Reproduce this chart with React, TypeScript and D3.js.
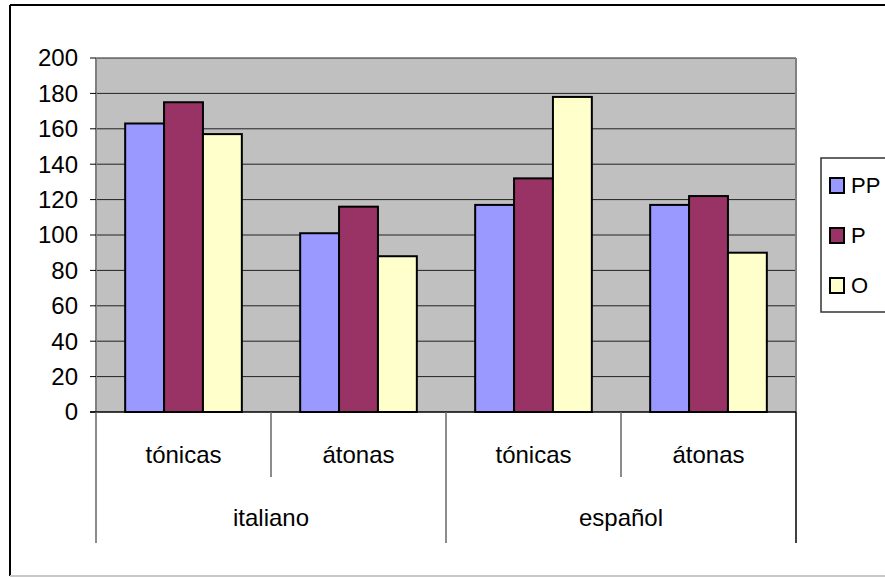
import React from "react";
import * as d3 from "d3";

// Sub-categories within each language group
const subCategories = ["tónicas", "átonas", "tónicas", "átonas"];
const groups = ["italiano", "español"];
const seriesNames = ["PP", "P", "O"];
const seriesColors = ["#9999FF", "#993366", "#FFFFCC"];

const ppValues = [163, 101, 117, 117];
const pValues = [175, 116, 132, 122];
const oValues = [157, 88, 178, 90];

const yTicks = [0, 20, 40, 60, 80, 100, 120, 140, 160, 180, 200];

const W = 885;
const H = 577;
const plot = { left: 96, right: 796, top: 58, bottom: 412 };
const FONT = "'Liberation Sans', Arial, sans-serif";
const FS = 24;

export default function App() {
  const values = [ppValues, pValues, oValues];

  const y = d3.scaleLinear().domain([0, 200]).range([plot.bottom, plot.top]);
  const x0 = d3
    .scaleBand<number>()
    .domain(d3.range(subCategories.length))
    .range([plot.left, plot.right]);
  const bw = x0.bandwidth();
  // gap width of 150% of a bar
  const barW = bw / (3 + 1.5);
  const x1 = d3
    .scaleBand<number>()
    .domain(d3.range(seriesNames.length))
    .range([barW * 0.75, bw - barW * 0.75]);

  const groupX = d3
    .scaleBand<number>()
    .domain(d3.range(groups.length))
    .range([plot.left, plot.right]);

  return (
    <svg
      width={W}
      height={H}
      style={{ position: "absolute", left: 0, top: 0, display: "block" }}
    >
      <rect x={0} y={0} width={W} height={H} fill="#fff" />
      {/* outer frame */}
      <line x1={10} y1={5} x2={900} y2={5} stroke="#000" strokeWidth={2} />
      <line x1={10} y1={5} x2={10} y2={576} stroke="#000" strokeWidth={2} />
      <line x1={10} y1={576} x2={900} y2={576} stroke="#c8c8c8" strokeWidth={2} />

      {/* plot background */}
      <rect
        x={plot.left}
        y={plot.top}
        width={plot.right - plot.left}
        height={plot.bottom - plot.top}
        fill="#C0C0C0"
      />
      {/* gridlines */}
      {yTicks.slice(1).map((t) => (
        <line
          key={t}
          x1={plot.left}
          x2={plot.right}
          y1={y(t)}
          y2={y(t)}
          stroke="#222"
          strokeWidth={1}
        />
      ))}
      {/* plot right border */}
      <line
        x1={plot.right}
        x2={plot.right}
        y1={plot.top}
        y2={plot.bottom}
        stroke="#808080"
        strokeWidth={2}
      />

      {/* bars */}
      {subCategories.map((_, ci) => (
        <g key={ci} transform={`translate(${x0(ci)},0)`}>
          {values.map((vals, si) => (
            <rect
              key={si}
              x={x1(si)}
              y={y(vals[ci])}
              width={x1.bandwidth()}
              height={y(0) - y(vals[ci])}
              fill={seriesColors[si]}
              stroke="#000"
              strokeWidth={2}
            />
          ))}
        </g>
      ))}

      {/* y axis */}
      <line
        x1={plot.left}
        x2={plot.left}
        y1={plot.top}
        y2={plot.bottom}
        stroke="#808080"
        strokeWidth={2}
      />
      {yTicks.map((t) => (
        <g key={t}>
          <line x1={plot.left - 6} x2={plot.left} y1={y(t)} y2={y(t)} stroke="#000" />
          <text
            x={78}
            y={y(t)}
            dy="0.35em"
            textAnchor="end"
            fontFamily={FONT}
            fontSize={FS}
            fill="#000"
          >
            {t}
          </text>
        </g>
      ))}

      {/* x axis */}
      <line
        x1={plot.left - 6}
        x2={plot.right}
        y1={plot.bottom}
        y2={plot.bottom}
        stroke="#000"
        strokeWidth={1.5}
      />
      {/* category separators */}
      {d3.range(subCategories.length + 1).map((i) => {
        const xx = plot.left + i * bw;
        const full = i % 2 === 0;
        return (
          <line
            key={i}
            x1={xx}
            x2={xx}
            y1={plot.bottom}
            y2={full ? 543 : 477}
            stroke={i === subCategories.length ? "#000" : "#666"}
            strokeWidth={1.5}
          />
        );
      })}
      {subCategories.map((c, i) => (
        <text
          key={i}
          x={(x0(i) as number) + bw / 2}
          y={455}
          dy="0.35em"
          textAnchor="middle"
          fontFamily={FONT}
          fontSize={FS}
          fill="#000"
        >
          {c}
        </text>
      ))}
      {groups.map((g, i) => (
        <text
          key={g}
          x={(groupX(i) as number) + groupX.bandwidth() / 2}
          y={518}
          dy="0.35em"
          textAnchor="middle"
          fontFamily={FONT}
          fontSize={FS}
          fill="#000"
        >
          {g}
        </text>
      ))}

      {/* legend */}
      <rect x={821} y={158} width={80} height={154} fill="#fff" stroke="#333" strokeWidth={1.5} />
      {seriesNames.map((s, i) => {
        const cy = 185 + i * 50;
        return (
          <g key={s}>
            <rect
              x={830}
              y={cy - 7}
              width={14}
              height={15}
              fill={seriesColors[i]}
              stroke="#000"
              strokeWidth={2}
            />
            <text
              x={851}
              y={cy}
              dy="0.35em"
              fontFamily={FONT}
              fontSize={22}
              fill="#000"
            >
              {s}
            </text>
          </g>
        );
      })}
    </svg>
  );
}
